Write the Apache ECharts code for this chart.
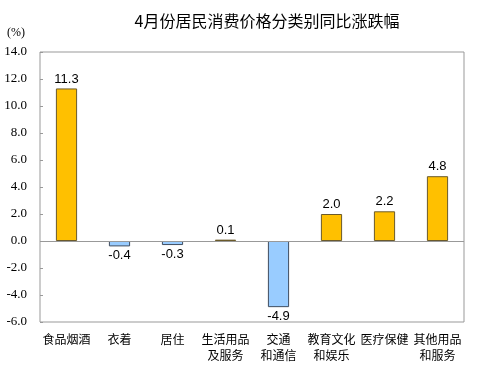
<!DOCTYPE html>
<html><head><meta charset="utf-8">
<script src="https://cdn.jsdelivr.net/npm/echarts@6/dist/echarts.min.js"></script>
<style>html,body{margin:0;padding:0;background:#fff}#c{width:485px;height:365px}</style>
</head><body><div id="c"></div>
<script>
const categories = ['食品烟酒','衣着','居住','生活用品\n及服务','交通\n和通信','教育文化\n和娱乐','医疗保健','其他用品\n和服务'];
const values = [11.3, -0.4, -0.3, 0.1, -4.9, 2.0, 2.2, 4.8];
const titleText = '4月份居民消费价格分类别同比涨跌幅';
const unitText = '(%)';

const chart = echarts.init(document.getElementById('c'), null, {renderer:'canvas'});
chart.setOption({
  animation:false,
  backgroundColor:'#fff',
  title:{text:titleText,left:262,top:8,textAlign:'center',
    textStyle:{fontFamily:'Noto Sans CJK SC',fontSize:16,fontWeight:'normal',color:'#000'}},
  graphic:[{type:'text',left:7,top:27,style:{text:unitText,font:'12px "Liberation Serif"',fill:'#000'}}],
  grid:{left:40,right:21,top:52,bottom:43,show:true,borderColor:'#999',borderWidth:1},
  xAxis:{type:'category',data:categories,
    axisLine:{show:false,onZero:false},axisTick:{show:false},
    axisLabel:{interval:0,margin:9,fontFamily:'Noto Sans CJK SC',fontSize:12,color:'#000',lineHeight:16}},
  yAxis:{type:'value',min:-6,max:14,interval:2,
    axisLine:{show:false},splitLine:{show:false},
    axisTick:{show:true,inside:true,length:3,lineStyle:{color:'#999'}},
    axisLabel:{formatter:v=>v.toFixed(1),fontFamily:"'Liberation Serif', serif",fontSize:13,color:'#000',margin:13}},
  series:[{type:'bar',barWidth:'40%',
    data:values.map(v=>({value:v,
      itemStyle:{color:v>=0?'#FFC000':'#99CCFF',borderColor:v>=0?'#6b5a2a':'#3f4d60',borderWidth:1},
      label:{position:v>=0?'top':'bottom'}})),
    label:{show:true,formatter:p=>p.value.toFixed(1),fontFamily:"'Liberation Sans', sans-serif",fontSize:13,color:'#000',distance:3},
    markLine:{silent:true,symbol:'none',label:{show:false},lineStyle:{color:'#999',type:'solid',width:1},data:[{yAxis:0}]}
  }]
});
</script></body></html>
